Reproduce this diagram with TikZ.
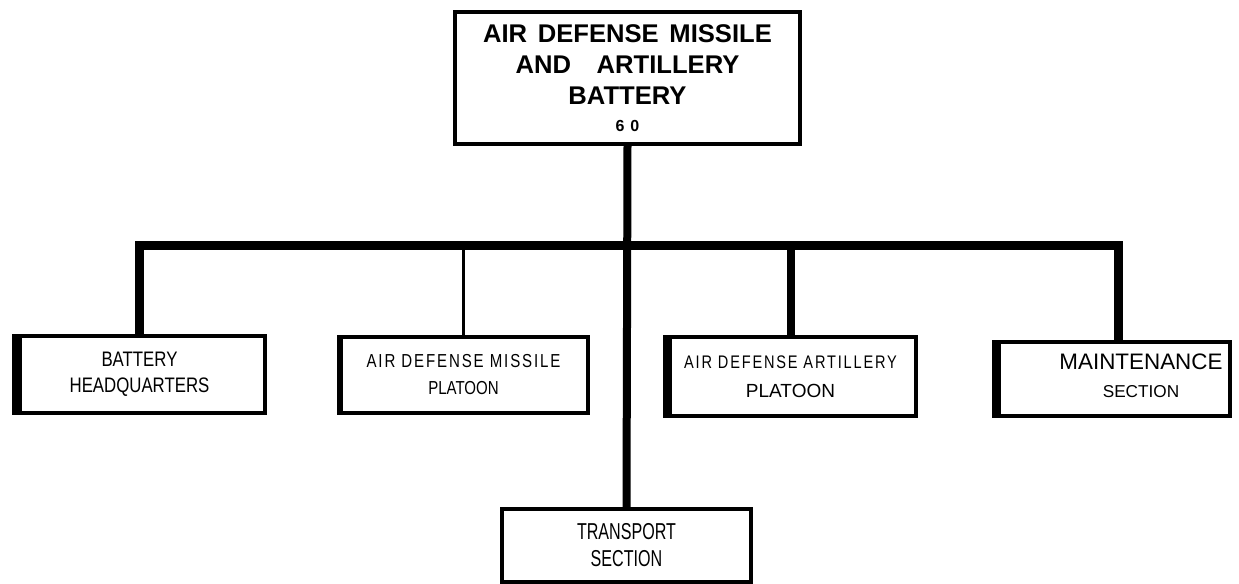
\documentclass[tikz,border=0pt]{standalone}
\usepackage{fontspec}
\setmainfont{Liberation Sans}
\newfontfamily\headfont[WordSpace=1.5]{Liberation Sans}
\newfontfamily\narrowfont[FakeStretch=0.8]{Liberation Sans}
\newfontfamily\spacedfont[FakeStretch=0.8,LetterSpace=10]{Liberation Sans}
\newfontfamily\tightfont[FakeStretch=0.7]{Liberation Sans}
\usetikzlibrary{positioning}

\begin{document}
\begin{tikzpicture}[
  x=0.5pt, y=-0.5pt,
  every node/.style={align=center},
  unit/.style={draw, line width=2pt, inner sep=0pt},
  bar/.style={line width=4.5pt, line join=miter},
  drop/.style={line width=4pt},
  thindrop/.style={line width=1.5pt}]
\useasboundingbox (0,0) rectangle (1239,584);
% battery and its sections
\node[unit, minimum width=172.5pt, minimum height=66pt,
  font=\headfont\bfseries\fontsize{12.8}{15.5}\selectfont] (battery) at (627.5,78)
  {AIR DEFENSE MISSILE\\AND\quad ARTILLERY\\BATTERY\\[-2pt]
   {\fontsize{8}{9}\selectfont 6\hspace{3pt}0}};
\node[unit, minimum width=125.5pt, minimum height=38.5pt,
  font=\narrowfont\fontsize{10.5}{13}\selectfont] (hq) at (139.5,374.5)
  {BATTERY\\HEADQUARTERS};
\node[unit, minimum width=124.5pt, minimum height=38pt,
  font=\narrowfont\fontsize{9.4}{13.5}\selectfont] (adm) at (463.5,375)
  {{\spacedfont AIR DEFENSE MISSILE}\\PLATOON};
\node[unit, minimum width=125.5pt, minimum height=39.5pt,
  font=\spacedfont\fontsize{9.1}{14.5}\selectfont] (ada) at (790.5,376.5)
  {AIR DEFENSE ARTILLERY\\{\rmfamily\fontsize{9.5}{14.5}\selectfont PLATOON}};
\node[unit, minimum width=118pt, minimum height=37pt] (maint) at (1112,379) {};
\node[font=\fontsize{11.2}{14}\selectfont] (maintText) at (1141,376)
  {MAINTENANCE\\{\fontsize{8.6}{14}\selectfont SECTION}};
\node[unit, minimum width=124.5pt, minimum height=36.5pt,
  font=\tightfont\fontsize{11.5}{13.5}\selectfont] (transport) at (626.5,545.5)
  {TRANSPORT\\SECTION};
% heavy left edges
\foreach \b/\w in {hq/5pt, adm/3pt, ada/4.5pt, maint/4.5pt}
  \draw[line width=\w] ([xshift=\w/2]\b.north west) -- ([xshift=\w/2]\b.south west);
% connectors
\coordinate (barR) at (1118,245);
\draw[bar] (hq.north) |- (barR) -- (maint.north -| barR);
\draw[thindrop] (adm.north) -- (adm.north |- barR);
\draw[drop] (ada.north) -- (ada.north |- barR);
\draw[drop] (battery.south) -- (transport.north);
\end{tikzpicture}
\end{document}
